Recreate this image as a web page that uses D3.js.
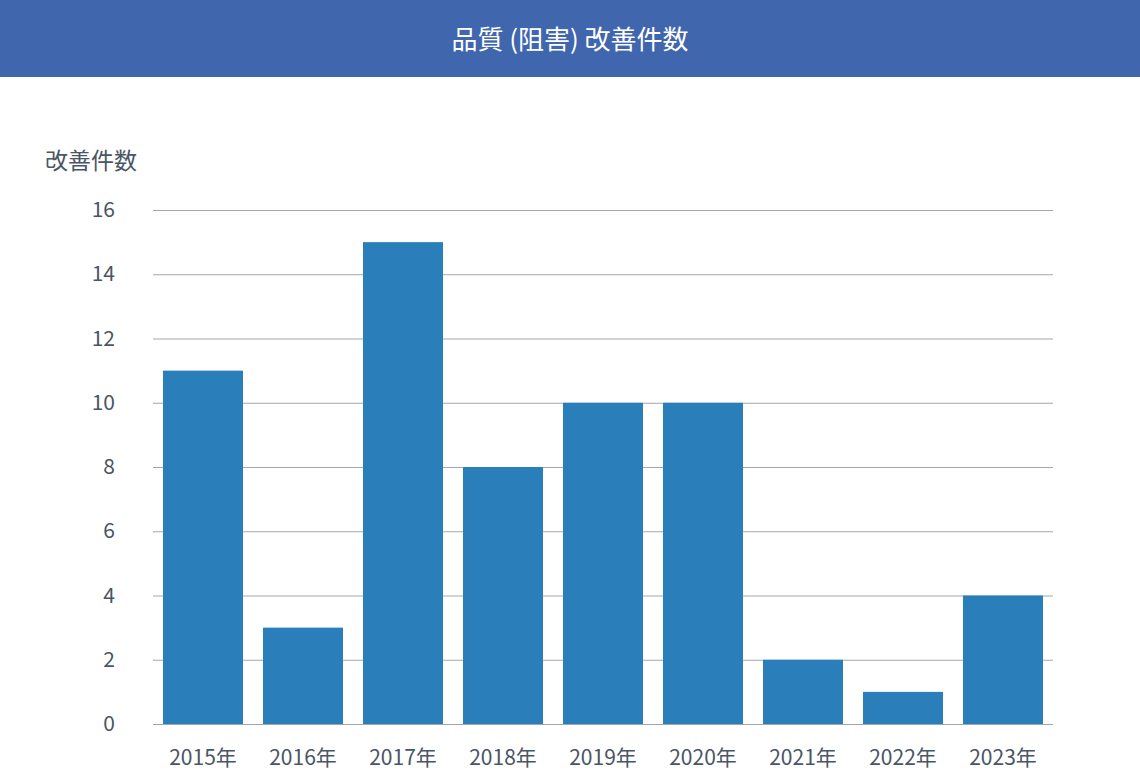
<!DOCTYPE html>
<html><head><meta charset="utf-8">
<script src="https://cdn.jsdelivr.net/npm/d3@7"></script>
<style>body{margin:0;background:#fff}svg{display:block}</style>
</head><body><svg id="c" width="1140" height="776"></svg>
<script>
const categories=["2015年","2016年","2017年","2018年","2019年","2020年","2021年","2022年","2023年"];
const values=[11,3,15,8,10,10,2,1,4];
const yTicks=[0,2,4,6,8,10,12,14,16];
const title="品質 (阻害) 改善件数";
const yLabel="改善件数";
const font="'Noto Sans CJK JP','Noto Sans',sans-serif";
const svg=d3.select("#c");
svg.append("rect").attr("x",0).attr("y",0).attr("width",1140).attr("height",77).attr("fill","#4066ad");
svg.append("text").attr("x",570).attr("y",49).attr("text-anchor","middle").attr("fill","#fff")
 .attr("font-size",26).attr("font-family",font).text(title);
const x=d3.scaleBand().domain(categories).range([153,1053]).paddingInner(0.2).paddingOuter(0.1);
const y=d3.scaleLinear().domain([0,16]).range([724,210]);
const g=svg.append("g").attr("transform","translate(153,0)");
g.call(d3.axisLeft(y).tickValues(yTicks).tickSize(-900).tickPadding(38))
 .call(a=>a.select(".domain").remove())
 .call(a=>a.selectAll("line").attr("stroke","#a0a6ae").attr("stroke-width",1))
 .call(a=>a.selectAll("text").attr("font-size",21).attr("font-family",font).attr("fill","#4a5565"));
svg.append("g").selectAll("rect").data(values).join("rect")
 .attr("x",(d,i)=>x(categories[i])).attr("width",x.bandwidth())
 .attr("y",d=>y(d)).attr("height",d=>y(0)-y(d)).attr("fill","#2a7fba");
svg.append("g").attr("transform","translate(0,724)")
 .call(d3.axisBottom(x).tickSize(0).tickPadding(26))
 .call(a=>a.select(".domain").remove())
 .call(a=>a.selectAll("text").attr("font-size",21).attr("font-family",font).attr("fill","#4a5565"));
svg.append("text").attr("x",45).attr("y",169).attr("fill","#4a5565").attr("font-size",23)
 .attr("font-family",font).text(yLabel);
</script></body></html>
